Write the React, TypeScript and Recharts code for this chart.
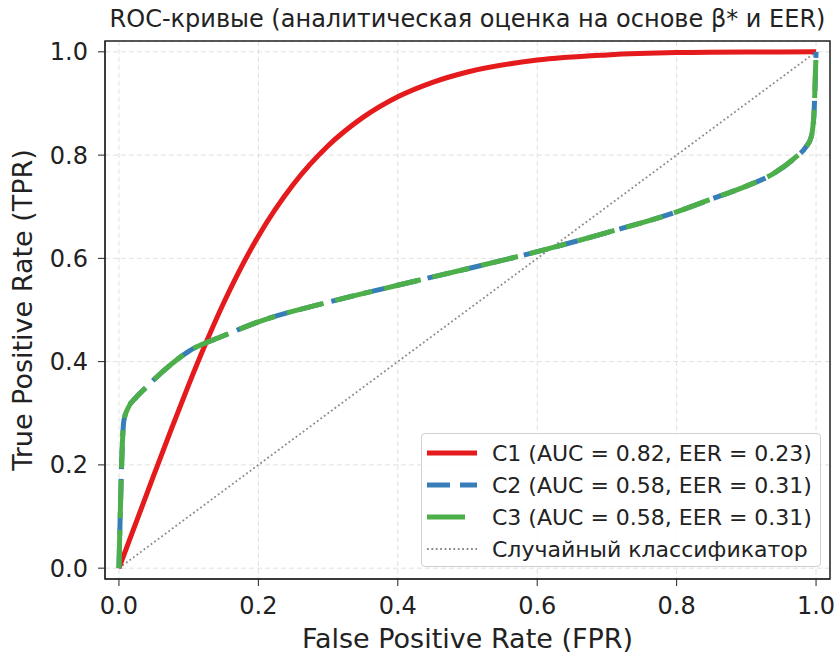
import {
  LineChart,
  Line,
  XAxis,
  YAxis,
  CartesianGrid,
  Legend,
  ReferenceArea,
} from "recharts";

const FONT = "'DejaVu Sans', Verdana, sans-serif";

const title = "ROC-кривые (аналитическая оценка на основе β* и EER)";

const ticks = [0, 0.2, 0.4, 0.6, 0.8, 1.0];
const X_DOMAIN: [number, number] = [-0.02, 1.02];
const Y_DOMAIN: [number, number] = [-0.021, 1.021];

// C1 curve
const c1Fpr = [0, 0.025, 0.05, 0.075, 0.1, 0.125, 0.15, 0.2, 0.25, 0.3, 0.35, 0.4, 0.45, 0.5, 0.6, 0.7, 0.8, 0.9, 1.0];
const c1Tpr = [0, 0.09, 0.18, 0.269, 0.355, 0.437, 0.513, 0.643, 0.743, 0.818, 0.873, 0.913, 0.941, 0.961, 0.984, 0.994, 0.9985, 0.9998, 1.0];

// C2 and C3 are the same curve
const c2Fpr = [0, 0.007, 0.013, 0.024, 0.035, 0.05, 0.075, 0.1, 0.15, 0.2, 0.3, 0.4, 0.5, 0.6, 0.7, 0.8, 0.85, 0.9, 0.94, 0.97, 0.985, 0.993, 0.997, 1.0];
const c2Tpr = [0, 0.285, 0.31, 0.33, 0.345, 0.365, 0.395, 0.42, 0.45, 0.477, 0.515, 0.548, 0.58, 0.613, 0.65, 0.69, 0.715, 0.74, 0.765, 0.795, 0.815, 0.835, 0.88, 1.0];
const c3Fpr = c2Fpr;
const c3Tpr = c2Tpr;

const randFpr = [0, 1];
const randTpr = [0, 1];

const labels = {
  c1: "C1 (AUC = 0.82, EER = 0.23)",
  c2: "C2 (AUC = 0.58, EER = 0.31)",
  c3: "C3 (AUC = 0.58, EER = 0.31)",
  rand: "Случайный классификатор",
};

const zip = (xs: number[], ys: number[]) => xs.map((x, i) => ({ x, y: ys[i] }));

const c1Data = zip(c1Fpr, c1Tpr);
const c2Data = zip(c2Fpr, c2Tpr);
const c3Data = zip(c3Fpr, c3Tpr);
const randData = zip(randFpr, randTpr);

const RED = "#e41a1c";
const BLUE = "#377eb8";
const GREEN = "#4daf4a";
const GRAY = "#8a8a8a";
const INK = "#222";

const legendRows = [
  { label: labels.c1, color: RED, width: 5, dash: undefined },
  { label: labels.c2, color: BLUE, width: 5, dash: "23 10" },
  { label: labels.c3, color: GREEN, width: 5, dash: "38 12" },
  { label: labels.rand, color: GRAY, width: 1.8, dash: "1.8 2.6" },
];

function LegendBox() {
  return (
    <div
      style={{
        boxSizing: "border-box",
        width: 400,
        height: 134,
        paddingTop: 3,
        border: "1px solid #d0d0d0",
        borderRadius: 4,
        background: "rgba(255,255,255,0.85)",
        fontFamily: FONT,
        fontSize: 22,
        color: INK,
      }}
    >
      {legendRows.map((r) => (
        <div key={r.label} style={{ height: 32, display: "flex", alignItems: "center" }}>
          <svg width={70} height={32} style={{ flex: "none" }}>
            <line x1={5} x2={55} y1={16} y2={16} stroke={r.color} strokeWidth={r.width} strokeDasharray={r.dash} />
          </svg>
          <span style={{ whiteSpace: "nowrap" }}>{r.label}</span>
        </div>
      ))}
    </div>
  );
}

export default function App() {
  return (
    <div style={{ position: "absolute", left: 0, top: 0, width: 835, height: 654, background: "#fff" }}>
      <div
        style={{
          position: "absolute",
          left: 105,
          top: 7,
          width: 725,
          textAlign: "center",
          fontFamily: FONT,
          fontSize: 24,
          lineHeight: "24px",
          color: INK,
          whiteSpace: "nowrap",
        }}
      >
        {title}
      </div>
      <LineChart width={835} height={654} margin={{ top: 41, right: 5, bottom: 0, left: 0 }}>
        <CartesianGrid stroke="#e0e0e0" strokeDasharray="5 3" />
        <XAxis
          type="number"
          dataKey="x"
          domain={X_DOMAIN}
          ticks={ticks}
          allowDataOverflow
          height={75}
          tickSize={7}
          tickMargin={11}
          tickFormatter={(v: number) => v.toFixed(1)}
          tick={{ fontSize: 24, fill: INK, fontFamily: FONT }}
          stroke={INK}
          label={{
            value: "False Positive Rate (FPR)",
            position: "insideBottom",
            offset: 6,
            style: { fontSize: 27, fill: INK, fontFamily: FONT },
          }}
        />
        <YAxis
          type="number"
          dataKey="y"
          domain={Y_DOMAIN}
          ticks={ticks}
          allowDataOverflow
          width={105}
          tickSize={7}
          tickMargin={10}
          tickFormatter={(v: number) => v.toFixed(1)}
          tick={{ fontSize: 24, fill: INK, fontFamily: FONT }}
          stroke={INK}
          label={{
            value: "True Positive Rate (TPR)",
            angle: -90,
            position: "insideLeft",
            offset: 22,
            style: { fontSize: 27, fill: INK, fontFamily: FONT, textAnchor: "middle" },
          }}
        />
        <Line
          data={randData}
          dataKey="y"
          type="linear"
          stroke={GRAY}
          strokeWidth={1.8}
          strokeDasharray="1.8 2.6"
          dot={false}
          isAnimationActive={false}
        />
        <Line
          data={c1Data}
          dataKey="y"
          type="monotone"
          stroke={RED}
          strokeWidth={5}
          dot={false}
          isAnimationActive={false}
        />
        <Line
          data={c2Data}
          dataKey="y"
          type="monotone"
          stroke={BLUE}
          strokeWidth={5}
          strokeDasharray="23 10"
          dot={false}
          isAnimationActive={false}
        />
        <Line
          data={c3Data}
          dataKey="y"
          type="monotone"
          stroke={GREEN}
          strokeWidth={5}
          strokeDasharray="38 12"
          dot={false}
          isAnimationActive={false}
        />
        <ReferenceArea
          x1={X_DOMAIN[0]}
          x2={X_DOMAIN[1]}
          y1={Y_DOMAIN[0]}
          y2={Y_DOMAIN[1]}
          ifOverflow="visible"
          fill="none"
          fillOpacity={0}
          stroke={INK}
          strokeWidth={1.5}
        />
        <Legend
          verticalAlign="middle"
          align="center"
          layout="horizontal"
          wrapperStyle={{ left: 421, top: 433, width: 400, height: 134 }}
          content={() => <LegendBox />}
        />
      </LineChart>
    </div>
  );
}
